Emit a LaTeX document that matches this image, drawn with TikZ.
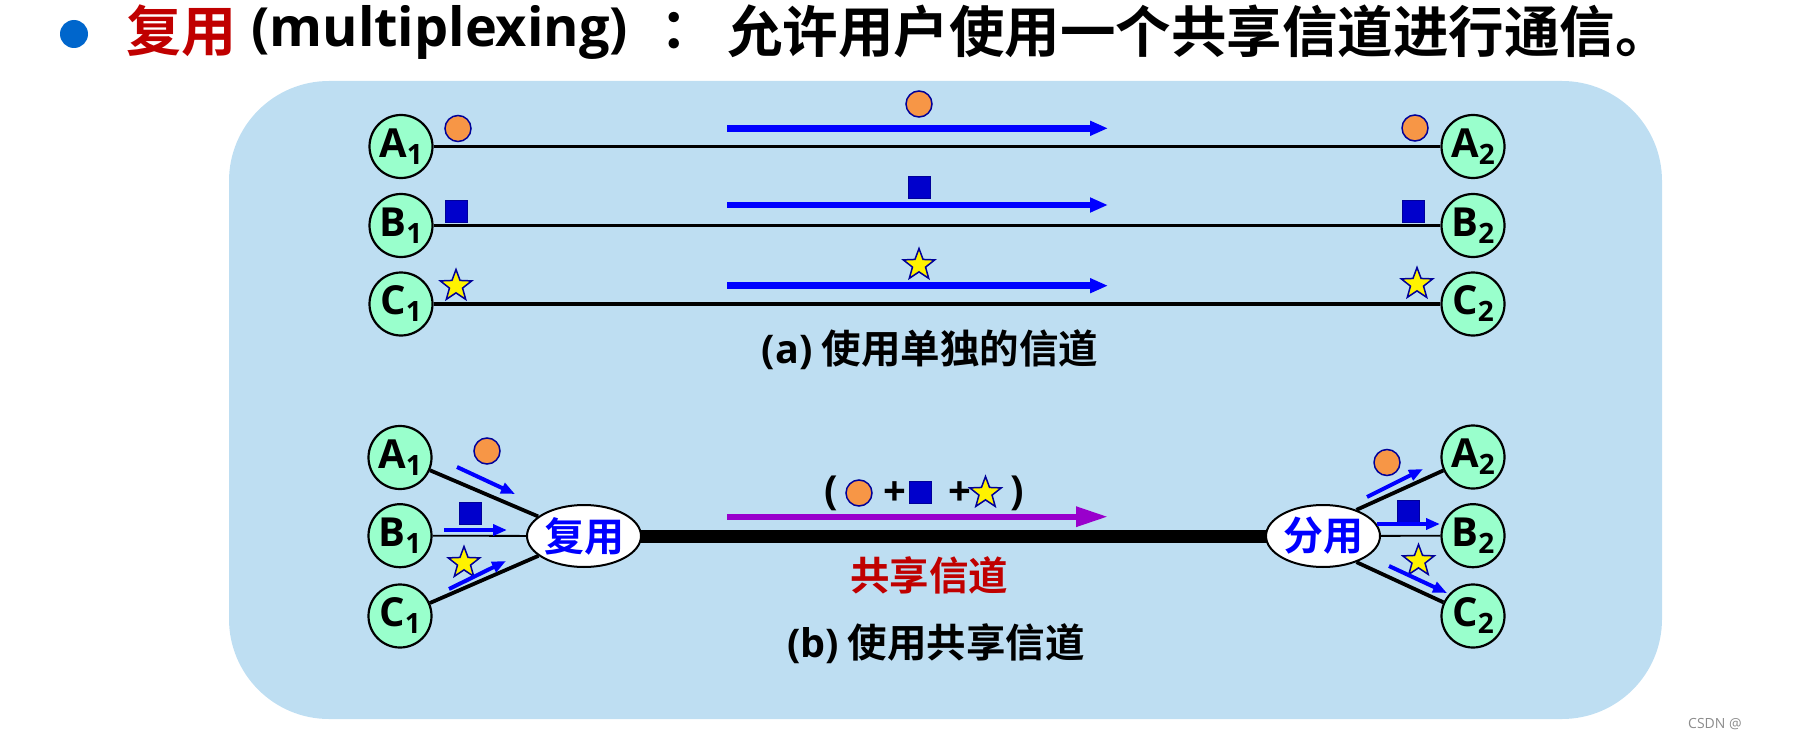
\documentclass[tikz,border=0pt]{standalone}
\usepackage{fontspec}
\setmainfont{Noto Sans CJK SC Bold}
\newfontfamily\latin{Open Sans}
\usetikzlibrary{shapes.geometric,arrows.meta}
\definecolor{bgblue}{RGB}{190,222,242}
\definecolor{ngreen}{RGB}{153,255,204}
\definecolor{dorange}{RGB}{247,150,70}
\definecolor{dkblue}{RGB}{0,0,153}
\definecolor{sqblue}{RGB}{0,0,204}
\definecolor{arblue}{RGB}{0,0,255}
\definecolor{purp}{RGB}{153,0,204}
\definecolor{tred}{RGB}{192,0,0}
\definecolor{bulletblue}{RGB}{0,102,204}
\newcommand{\lab}[2]{#1\raisebox{-7pt}{\fontsize{28}{28}\selectfont #2}}
\pgfdeclarelayer{bglayer}
\pgfdeclarelayer{linelayer}
\pgfsetlayers{bglayer,linelayer,main}
\begin{document}
\begin{tikzpicture}[x=1pt,y=-1pt,
  ep/.style={circle,draw=black,line width=2.2pt,fill=ngreen,minimum size=63pt,inner sep=0pt,font=\latin\bfseries\fontsize{40}{40}\selectfont},
  ball/.style={circle,draw=dkblue,line width=1.5pt,fill=dorange,minimum size=26pt,inner sep=0pt},
  sqbox/.style={rectangle,draw=dkblue,line width=1pt,fill=sqblue,minimum size=22pt,inner sep=0pt},
  starbox/.style={star,star points=5,star point ratio=2.4,draw=dkblue,line width=1.5pt,fill=yellow,minimum size=33pt,inner sep=0pt},
  chan/.style={line width=3.8pt,black},
  chanthin/.style={line width=1.8pt,black},
  flow/.style={arblue,line width=6.5pt,-{Triangle[length=18pt,width=14pt]}},
  sflow/.style={arblue,line width=4pt,-{Triangle[length=14pt,width=11pt]}},
  lbl/.style={inner sep=0pt,font=\fontsize{39.5}{40}\selectfont},
  muxbox/.style={ellipse,draw=black,line width=2pt,fill=white,minimum width=114pt,minimum height=62pt,inner sep=0pt,text=arblue,font=\fontsize{40}{40}\selectfont},
  sym/.style={inner sep=0pt,font=\latin\bfseries\fontsize{40}{40}\selectfont}
]
\useasboundingbox (0,0) rectangle (1807,741);
\begin{pgfonlayer}{bglayer}
\fill[bgblue,rounded corners=100pt] (229,81) rectangle (1662,719);
\end{pgfonlayer}
% title
\node[circle,fill=bulletblue,minimum size=28pt,inner sep=0pt] (bul) at (74,34) {};
\node[anchor=west,inner sep=0pt,text=tred,font=\fontsize{55}{55}\selectfont] (t1) at (126,31) {复用};
\node[anchor=west,inner sep=0pt,font=\latin\bfseries\fontsize{54}{54}\selectfont] (t2) at (251,32) {(multiplexing)};
\node[inner sep=0pt,font=\fontsize{55}{55}\selectfont] (t3) at (688,31) {\makebox[0pt]{：}};
\node[anchor=west,inner sep=0pt,font=\fontsize{55.5}{55}\selectfont] (t4) at (727,31) {允许用户使用一个共享信道进行通信。};
% (a) endpoints
\node[ep] (a1) at (401,146.5) {\lab{A}{1}};
\node[ep] (b1) at (401,225.5) {\lab{B}{1}};
\node[ep] (c1) at (401,304) {\lab{C}{1}};
\node[ep] (a2) at (1473,146.5) {\lab{A}{2}};
\node[ep] (b2) at (1473,225.5) {\lab{B}{2}};
\node[ep] (c2) at (1473,304) {\lab{C}{2}};
\draw[chan] (a1) -- (a2);
\draw[chan] (b1) -- (b2);
\draw[chan] (c1) -- (c2);
\node[ball] (oa1) at (458,128.5) {};
\node[ball] (oa2) at (919,104) {};
\node[ball] (oa3) at (1415,128) {};
\node[sqbox] (sa1) at (456,211) {};
\node[sqbox] (sa2) at (919,187) {};
\node[sqbox] (sa3) at (1413,211) {};
\node[starbox] (xa1) at (456,286) {};
\node[starbox] (xa2) at (919,265) {};
\node[starbox] (xa3) at (1417,284) {};
\coordinate (fa0) at (727,128.3); \coordinate (fa1) at (1108,128.3);
\coordinate (fb0) at (727,205); \coordinate (fb1) at (1108,205);
\coordinate (fc0) at (727,285.7); \coordinate (fc1) at (1108,285.7);
\draw[flow] (fa0) -- (fa1);
\draw[flow] (fb0) -- (fb1);
\draw[flow] (fc0) -- (fc1);
\node[lbl] (capa) at (930,350) {{\latin\bfseries (a)} 使用单独的信道};
% (b)
\node[ep] (ba1) at (400,457.5) {\lab{A}{1}};
\node[ep] (bb1) at (400,535.7) {\lab{B}{1}};
\node[ep] (bc1) at (400,616) {\lab{C}{1}};
\node[ep] (ba2) at (1473,457) {\lab{A}{2}};
\node[ep] (bb2) at (1473,535.7) {\lab{B}{2}};
\node[ep] (bc2) at (1473,616) {\lab{C}{2}};
\node[muxbox] (mux) at (584,536) {复用};
\node[muxbox] (dmx) at (1323,536) {分用};
\begin{pgfonlayer}{linelayer}
\draw[line width=13pt] (mux.center) -- (dmx.center);
\end{pgfonlayer}
\draw[chan] (ba1) -- (mux);
\draw[chanthin] (bb1) -- (mux);
\draw[chan] (bc1) -- (mux);
\draw[chan] (dmx.38) -- (ba2);
\draw[chanthin] (dmx) -- (bb2);
\draw[chan] (dmx.-38) -- (bc2);
\node[ball] (ob1) at (487,451) {};
\node[sqbox] (sb1) at (470.5,513) {};
\node[starbox] (xb1) at (464,563) {};
\node[ball] (ob2) at (1387,462.5) {};
\node[sqbox] (sb2) at (1408,511) {};
\node[starbox] (xb2) at (1418.5,561) {};
\coordinate (g1s) at (457,467); \coordinate (g1e) at (515,494);
\coordinate (g2s) at (444,530); \coordinate (g2e) at (507,530);
\coordinate (g3s) at (449,589); \coordinate (g3e) at (506,561);
\coordinate (h1s) at (1367,497); \coordinate (h1e) at (1423,469);
\coordinate (h2s) at (1377,524); \coordinate (h2e) at (1440,524);
\coordinate (h3s) at (1389,566); \coordinate (h3e) at (1447,593);
\draw[sflow] (g1s) -- (g1e);
\draw[sflow] (g2s) -- (g2e);
\draw[sflow] (g3s) -- (g3e);
\draw[sflow] (h1s) -- (h1e);
\draw[sflow] (h2s) -- (h2e);
\draw[sflow] (h3s) -- (h3e);
% shared channel content
\coordinate (pa0) at (727,516.7); \coordinate (pa1) at (1108,516.7);
\draw[purp,line width=6pt,-{Triangle[length=32pt,width=19pt]}] (pa0) -- (pa1);
\node[sym] (lp) at (831,493) {(};
\node[ball] (mb) at (859,493) {};
\node[sym] (p1) at (895,494) {+};
\node[sqbox] (ms) at (920,492) {};
\node[sym] (p2) at (960,494) {+};
\node[starbox] (mst) at (985.5,493) {};
\node[sym] (rp) at (1017.5,493) {)};
\node[lbl,text=tred] (share) at (929,575) {共享信道};
\node[lbl] (capb) at (936,644) {{\latin\bfseries (b)} 使用共享信道};
\node[anchor=west,inner sep=0pt,text=black!45,font=\latin\fontsize{14}{14}\selectfont] (wm) at (1688,724) {CSDN @};
\end{tikzpicture}
\end{document}
